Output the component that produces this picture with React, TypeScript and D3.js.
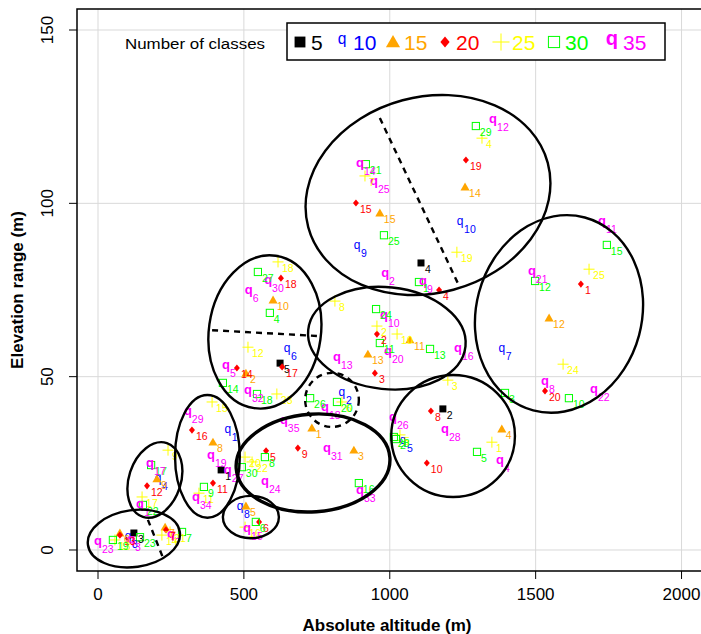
import React from "react";
import * as d3 from "d3";

const FONT = "'Liberation Sans', Arial, Helvetica, sans-serif";

// number of classes, and how each classification is drawn
const classCounts = [5, 10, 15, 20, 25, 30, 35];
const classColors = ["#000000", "#0000ff", "#ffa500", "#ff0000", "#ffff00", "#00ff00", "#ff00ff"];
const classSymbols = ["square", "q", "triangle", "diamond", "plus", "box", "qbold"];

// class centres as [absolute altitude (m), elevation range (m)], numbered 1..k
const k5 = [[422, 23.1], [1182, 40.7], [123, 4.9], [1107, 82.8], [624, 53.9]];
const k10 = [
  [445, 34.3], [836, 45.0], [103, 3.5], [206, 20.2], [1045, 31.1],
  [648, 57.7], [1384, 57.7], [487, 12.1], [888, 87.4], [1241, 94.3],
];
const k15 = [
  [733, 35.2], [507, 51.0], [877, 28.8], [1384, 34.9], [507, 12.7],
  [75, 4.9], [230, 6.6], [394, 31.1], [202, 20.5], [600, 72.1],
  [1069, 60.6], [1546, 66.9], [925, 56.5], [1258, 104.7], [966, 97.2],
];
const k20 = [
  [1655, 76.7], [956, 62.3], [949, 51.0], [1169, 75.0], [576, 28.6],
  [552, 8.1], [233, 5.8], [1141, 40.1], [685, 29.4], [1127, 25.1],
  [394, 19.3], [168, 18.5], [75, 4.3], [476, 52.5], [884, 100.1],
  [322, 34.6], [631, 52.8], [627, 78.4], [1261, 112.5], [1532, 45.9],
];
const k25 = [
  [1350, 31.1], [956, 64.6], [1199, 49.0], [1316, 118.8], [1035, 33.2],
  [836, 42.7], [915, 107.9], [812, 71.8], [240, 28.8], [1025, 62.3],
  [346, 16.4], [514, 58.5], [58, 2.9], [219, 4.3], [391, 42.7],
  [504, 6.6], [151, 15.3], [617, 83.1], [1230, 85.9], [504, 26.8],
  [247, 5.2], [528, 25.4], [613, 45.0], [1594, 53.6], [1683, 81.0],
];
const k30 = [
  [1100, 77.3], [1021, 32.0], [1395, 45.3], [589, 68.4], [1299, 28.3],
  [541, 8.1], [288, 5.2], [572, 26.8], [363, 18.2], [1614, 43.8],
  [966, 59.7], [1498, 77.6], [1138, 58.0], [428, 48.2], [1744, 88.0],
  [894, 19.3], [182, 24.5], [545, 45.0], [51, 2.9], [819, 42.7],
  [918, 111.3], [154, 13.0], [144, 3.7], [953, 69.5], [980, 90.8],
  [727, 43.8], [548, 80.2], [1014, 32.6], [1295, 122.3], [493, 23.9],
];
const k35 = [
  [144, 12.7], [984, 79.3], [113, 2.6], [1378, 25.4], [439, 52.8],
  [517, 74.4], [250, 4.0], [1532, 48.2], [1114, 77.0], [980, 67.2],
  [1727, 94.3], [1354, 123.7], [819, 55.1], [898, 111.0], [511, 5.8],
  [1234, 57.7], [178, 24.5], [778, 40.7], [387, 26.8], [994, 56.8],
  [1487, 79.9], [1700, 45.9], [0, 2.0], [572, 19.3], [946, 105.8],
  [1011, 37.8], [445, 22.5], [1189, 34.3], [308, 39.5], [583, 77.3],
  [785, 28.8], [514, 45.6], [898, 16.7], [336, 14.7], [637, 36.9],
];
const series = [k5, k10, k15, k20, k25, k30, k35];

const xTicks = [0, 500, 1000, 1500, 2000];
const yTicks = [0, 50, 100, 150];

// groups circled by hand on the plot (centre and half-axes in data units, tilt in degrees)
const rings = [
  { cx: 123, cy: 3.3, rx: 159, ry: 8.2, tilt: -8 },
  { cx: 195, cy: 20.2, rx: 89, ry: 11.2, tilt: 18 },
  { cx: 375, cy: 27.0, rx: 111, ry: 17.7, tilt: 0 },
  { cx: 524, cy: 9.5, rx: 96, ry: 6.1, tilt: 0 },
  { cx: 737, cy: 25.1, rx: 264, ry: 14.1, tilt: -4, bold: true },
  { cx: 802, cy: 43.3, rx: 92, ry: 7.8, tilt: 0, dashed: true },
  { cx: 572, cy: 62.9, rx: 192, ry: 22.2, tilt: 8 },
  { cx: 990, cy: 61.1, rx: 271, ry: 14.7, tilt: 6 },
  { cx: 1131, cy: 102.4, rx: 425, ry: 28.3, tilt: -15 },
  { cx: 1580, cy: 68.1, rx: 284, ry: 28.8, tilt: 15 },
  { cx: 1217, cy: 32.9, rx: 212, ry: 17.6, tilt: 0 },
];
const splits = [
  [[966, 124.6], [1241, 75.6]],
  [[391, 63.4], [761, 61.7]],
  [[171, 8.7], [223, -2.3]],
];

function Mark({ kind, color, cx, cy, s = 1 }) {
  if (kind === "square")
    return <rect x={cx - 3.5 * s} y={cy - 3.5 * s} width={7 * s} height={7 * s} fill={color} />;
  if (kind === "box")
    return (
      <rect x={cx - 3.6 * s} y={cy - 3.6 * s} width={7.2 * s} height={7.2 * s}
        fill="none" stroke={color} strokeWidth={1} />
    );
  if (kind === "triangle") {
    const d = d3.symbol().type(d3.symbolTriangle).size(36 * s * s)();
    return <path d={d} transform={`translate(${cx},${cy + 0.8 * s})`} fill={color} />;
  }
  if (kind === "diamond") {
    const a = 3 * s, b = 3.6 * s;
    return (
      <polygon points={`${cx},${cy - b} ${cx + a},${cy} ${cx},${cy + b} ${cx - a},${cy}`} fill={color} />
    );
  }
  if (kind === "plus")
    return (
      <path d={`M${cx - 5.5 * s},${cy}H${cx + 5.5 * s}M${cx},${cy - 5.5 * s}V${cy + 5.5 * s}`}
        stroke={color} strokeWidth={1} />
    );
  const bold = kind === "qbold";
  const fs = (bold ? 13 : 12) * s;
  return (
    <text x={cx} y={cy + 0.16 * fs} textAnchor="middle" fontSize={fs}
      fontWeight={bold ? "bold" : "normal"} fill={color} fontFamily={FONT}>q</text>
  );
}

export default function App() {
  const W = 701, H = 634;
  const left = 77, right = 697, top = 9, bottom = 571;
  const x = d3.scaleLinear().domain([-72, 2053]).range([left, right]);
  const y = d3.scaleLinear().domain([-6.06, 156.06]).range([bottom, top]);

  const legendMarks = [300, 342, 393, 445, 501, 554, 612];

  return (
    <svg width={W} height={H} style={{ position: "absolute", left: 0, top: 0, background: "#fff" }}
      fontFamily={FONT}>
      {/* grid */}
      {xTicks.map((t) => (
        <line key={"gx" + t} x1={x(t)} x2={x(t)} y1={top} y2={bottom} stroke="#d9d9d9" strokeWidth={1} />
      ))}
      {yTicks.map((t) => (
        <line key={"gy" + t} x1={left} x2={W} y1={y(t)} y2={y(t)} stroke="#d9d9d9" strokeWidth={1} />
      ))}

      {/* points and their numbers */}
      {series.map((pts, si) =>
        pts.map((p, i) => (
          <Mark key={`m${si}-${i}`} kind={classSymbols[si]} color={classColors[si]} cx={x(p[0])} cy={y(p[1])} />
        ))
      )}
      {series.map((pts, si) =>
        pts.map((p, i) => (
          <text key={`t${si}-${i}`} x={x(p[0]) + 4} y={y(p[1]) + 10} fontSize={10.5} fill={classColors[si]}>
            {i + 1}
          </text>
        ))
      )}

      {/* hand-drawn groupings */}
      {rings.map((r, i) => {
        const rx = x(r.cx + r.rx) - x(r.cx);
        const ry = y(r.cy) - y(r.cy + r.ry);
        return (
          <ellipse key={"r" + i} cx={0} cy={0} rx={rx} ry={ry}
            transform={`translate(${x(r.cx)},${y(r.cy)}) rotate(${r.tilt})`}
            fill="none" stroke="#000" strokeWidth={r.bold ? 3.4 : 2.4}
            strokeDasharray={r.dashed ? "6,5" : undefined} />
        );
      })}
      {splits.map((l, i) => (
        <line key={"s" + i} x1={x(l[0][0])} y1={y(l[0][1])} x2={x(l[1][0])} y2={y(l[1][1])}
          stroke="#000" strokeWidth={2.4} strokeDasharray="6,5" />
      ))}

      {/* frame */}
      <path d={`M${W},${top}H${left}V${bottom}H${W}`} fill="none" stroke="#000" strokeWidth={1.5} />

      {/* axes */}
      {xTicks.map((t) => (
        <g key={"xt" + t}>
          <line x1={x(t)} x2={x(t)} y1={bottom} y2={bottom + 8} stroke="#000" strokeWidth={1} />
          <text x={x(t)} y={bottom + 29} textAnchor="middle" fontSize={17}>{t}</text>
        </g>
      ))}
      {yTicks.map((t) => (
        <g key={"yt" + t}>
          <line x1={left - 8} x2={left} y1={y(t)} y2={y(t)} stroke="#000" strokeWidth={1} />
          <text transform={`translate(${left - 24},${y(t)}) rotate(-90)`} textAnchor="middle" fontSize={17}>
            {t}
          </text>
        </g>
      ))}
      <text x={(left + right) / 2} y={631} textAnchor="middle" fontSize={17} fontWeight="bold">
        Absolute altitude (m)
      </text>
      <text transform={`translate(23,${(top + bottom) / 2}) rotate(-90)`} textAnchor="middle"
        fontSize={17} fontWeight="bold">
        Elevation range (m)
      </text>

      {/* legend */}
      <text x={125} y={49} fontSize={15.5} textLength={140} lengthAdjust="spacingAndGlyphs">
        Number of classes
      </text>
      <rect x={287} y={23} width={378} height={37} fill="#fff" stroke="#000" strokeWidth={1.5} />
      {classCounts.map((c, i) => (
        <g key={"lg" + c}>
          <Mark kind={classSymbols[i]} color={classColors[i]} cx={legendMarks[i]} cy={42}
            s={classSymbols[i] === "q" ? 1.3 : 1.55} />
          <text x={legendMarks[i] + 11} y={50} fontSize={21} fill={classColors[i]}>{c}</text>
        </g>
      ))}
    </svg>
  );
}
